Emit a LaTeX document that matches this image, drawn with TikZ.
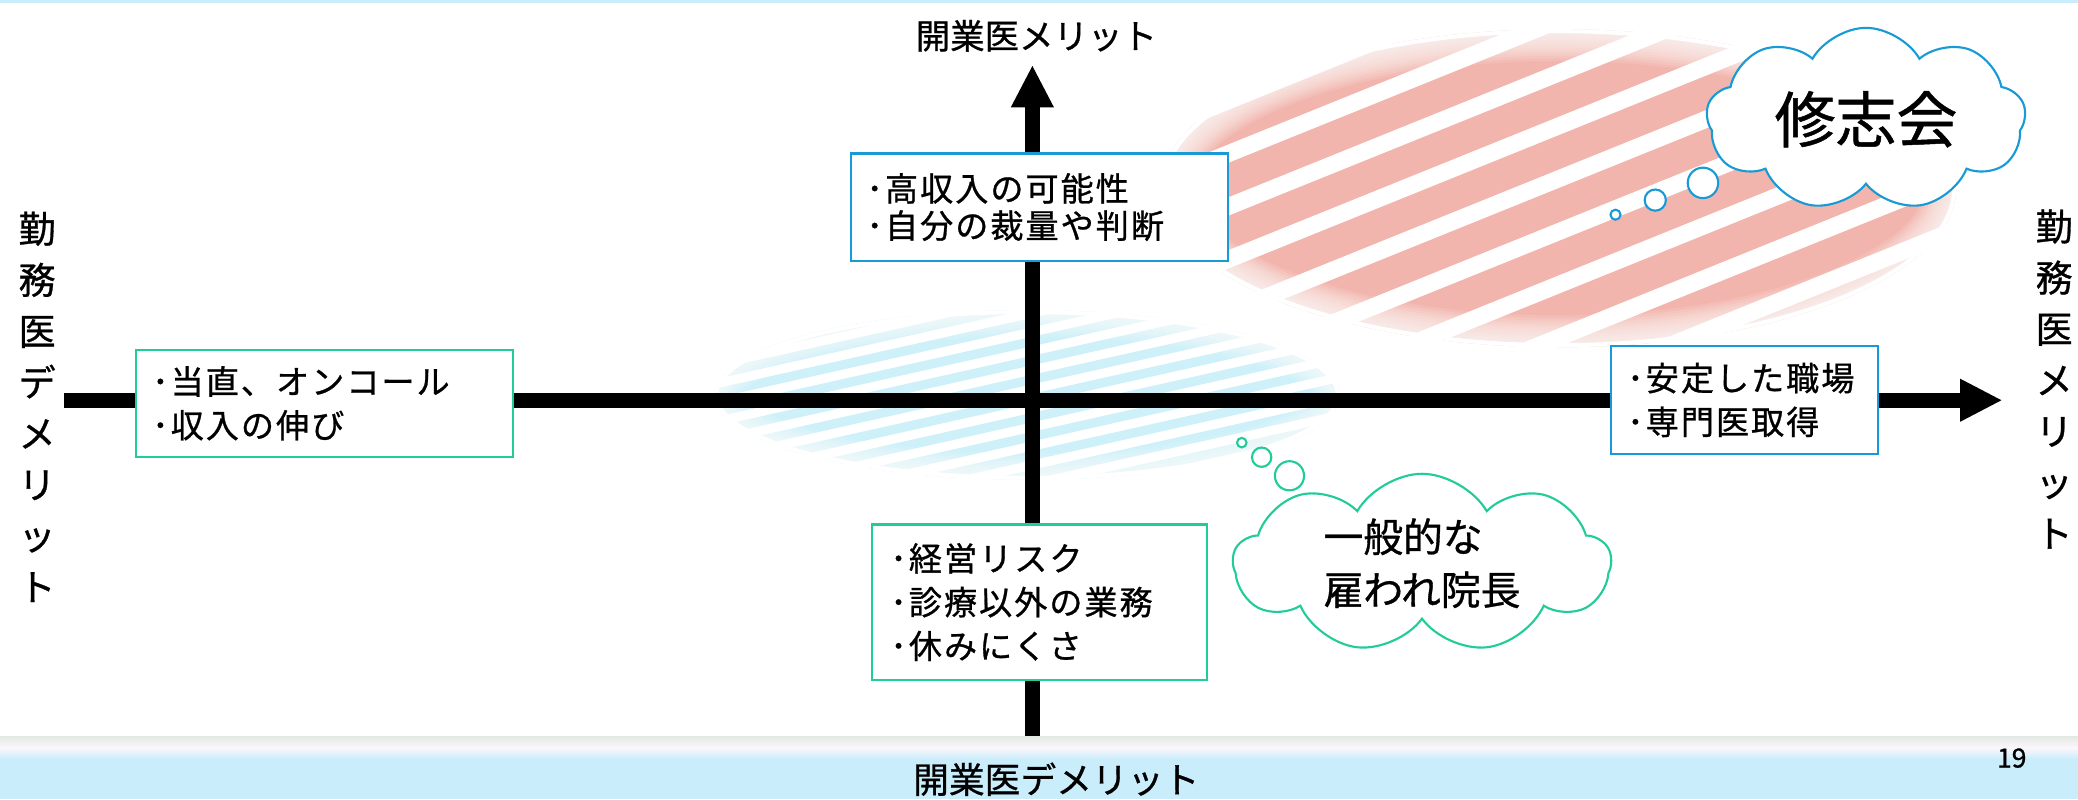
\documentclass[tikz,border=0pt]{standalone}
\usepackage{fontspec}
\usepackage{tikz}
\usetikzlibrary{shapes.symbols,arrows.meta}
\newfontfamily\jpfont{Noto Sans CJK JP}[FakeBold=0.8]
\newfontfamily\jpboxfont{Noto Sans CJK JP}[LetterSpace=6,FakeBold=0.8]
\definecolor{boxblue}{RGB}{24,154,214}
\definecolor{boxgreen}{RGB}{34,204,153}
\definecolor{stripered}{RGB}{242,181,173}
\definecolor{stripeblue}{RGB}{205,240,249}
\definecolor{bandblue}{RGB}{201,237,251}
\definecolor{bandgray}{RGB}{228,234,230}
\definecolor{bandpink}{RGB}{252,246,252}

\begin{document}
\begin{tikzpicture}[x=1pt,y=-1pt,
	axis/.style={line width=11pt,-{Triangle[length=32pt,width=30pt]}},
	itembox/.style={draw,line width=1.6pt,fill=white,inner xsep=12pt,inner ysep=0pt,
		anchor=north west,align=left,font=\jpboxfont\fontsize{25}{33}\selectfont},
	thought/.style={cloud,cloud puffs=9,cloud puff arc=120,cloud ignores aspect,
		draw,line width=1.6pt,fill=white,inner sep=0pt},
	bubble/.style={draw=#1,line width=1.6pt,fill=white},
	vlabel/.style={align=center,font=\jpfont\fontsize{28}{38.6}\selectfont,inner sep=0pt}]
		\useasboundingbox (0,0) rectangle (1568,603);
		\fill[bandblue] (0,0) rectangle (1568,2.5);

		% red stripes, fuzzy edge
		\begin{scope}
			\clip (1176,142) ellipse [x radius=300, y radius=120];
			\foreach \k in {-6,...,5}
				\fill[stripered, rotate around={22:(1176,142)}] (776,142+37*\k) rectangle +(800,24);
			\foreach \w in {4,8,...,48}
				\draw[white, opacity=0.12, line width=\w pt] (1176,142) ellipse [x radius=300, y radius=120];
			\draw[white, line width=6pt] (1176,142) ellipse [x radius=300, y radius=120];
		\end{scope}
		% blue stripes, fuzzy edge
		\begin{scope}
			\clip (775,298) ellipse [x radius=236, y radius=64];
			\foreach \k in {-7,...,7}
				\fill[stripeblue, rotate around={12.6:(775,298)}] (475,298+14*\k) rectangle +(600,7);
			\foreach \w in {4,8,...,40}
				\draw[white, opacity=0.12, line width=\w pt] (775,298) ellipse [x radius=236, y radius=64];
			\draw[white, line width=6pt] (775,298) ellipse [x radius=236, y radius=64];
		\end{scope}

		% axes
		\coordinate (xl) at (48,302);
		\coordinate (xr) at (1511,302);
		\coordinate (yb) at (779,557);
		\coordinate (yt) at (779,49);
		\draw[axis] (xl) -- (xr);
		\draw[axis] (yb) -- (yt);

		% bottom band
		\shade[top color=bandgray, bottom color=bandpink] (0,556) rectangle (1568,564);
		\shade[top color=bandpink, bottom color=bandblue] (0,564) rectangle (1568,573);
		\fill[bandblue] (0,573) rectangle (1568,603);

		% axis labels
		\node[font=\jpfont\fontsize{26}{30}\selectfont] (kaiM) at (782,27) {開業医メリット};
		\node[font=\jpfont\fontsize{27}{30}\selectfont] (kaiD) at (797,588) {開業医デメリット};
		\node[vlabel] (kinD) at (28,307) {勤\\務\\医\\デ\\メ\\リ\\ッ\\ト};
		\node[vlabel] (kinM) at (1550,286) {勤\\務\\医\\メ\\リ\\ッ\\ト};
		\node[font=\jpfont\fontsize{20}{24}\selectfont] (page) at (1518,572) {19};

		% boxes
		\node[itembox, draw=boxgreen, text width=260pt, minimum height=81pt] (left) at (102,263) {･当直、オンコール\\･収入の伸び};
		\node[itembox, draw=boxblue, text width=261pt, minimum height=81pt,
			font=\jpboxfont\fontsize{25}{28}\selectfont] (top) at (641,115) {･高収入の可能性\\･自分の裁量や判断};
		\node[itembox, draw=boxblue, text width=177pt, minimum height=82pt] (right) at (1215,260) {･安定した職場\\･専門医取得};
		\node[itembox, draw=boxgreen, inner xsep=14pt, text width=225pt, minimum height=117pt] (bottom) at (657,395) {･経営リスク\\･診療以外の業務\\･休みにくさ};

		% thought clouds
		\node[thought, draw=boxblue, minimum width=241pt, minimum height=138pt,
			font=\jpfont\fontsize{46}{50}\selectfont] (shushi) at (1408,90) {修志会};
		\foreach \bx/\by/\br in {1285/138/11.5, 1249/151/8, 1219/162/3.8}
			\draw[bubble=boxblue] (\bx,\by) circle [radius=\br];
		\node[thought, draw=boxgreen, minimum width=285pt, minimum height=135pt, align=left,
			font=\jpfont\fontsize{30}{40}\selectfont] (hired) at (1073,425) {一般的な\\雇われ院長};
		\foreach \bx/\by/\br in {973/359/11, 952/345/7.3, 937/334/3.6}
			\draw[bubble=boxgreen] (\bx,\by) circle [radius=\br];
\end{tikzpicture}
\end{document}
